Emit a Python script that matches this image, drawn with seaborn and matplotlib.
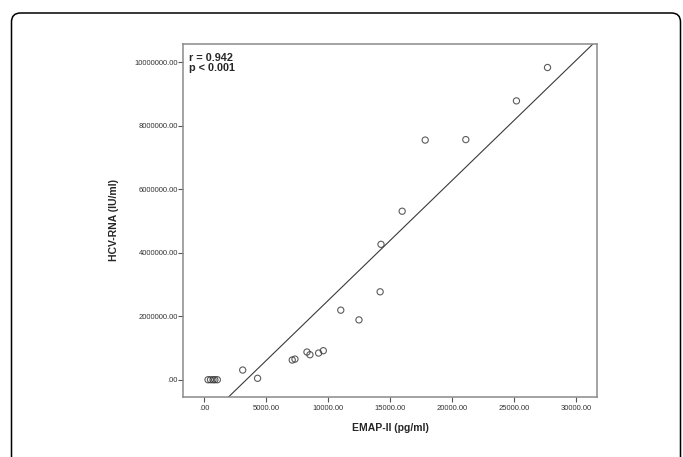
import numpy as np
import pandas as pd
import matplotlib
matplotlib.use("Agg")
import matplotlib.pyplot as plt
from matplotlib.patches import FancyBboxPatch
from matplotlib.ticker import FuncFormatter
import seaborn as sns

# values
emap = [300, 500, 700, 850, 1050, 3100, 4300, 7100, 7320, 8290, 8530,
        9230, 9610, 11020, 12490, 14200, 14270, 15980, 17840, 21120, 25210, 27720]
hcv = [0, 0, 0, 0, 0, 305000, 45000, 620000, 650000, 872000, 787000,
       840000, 914000, 2190000, 1884000, 2768000, 4263000, 5305000,
       7545000, 7560000, 8780000, 9830000]
x_ticks = [0, 5000, 10000, 15000, 20000, 25000, 30000]
y_ticks = [0, 2000000, 4000000, 6000000, 8000000, 10000000]
stats_text = "r = 0.942\np < 0.001"

df = pd.DataFrame({"EMAP-II (pg/ml)": emap, "HCV-RNA (IU/ml)": hcv})

sns.set_style("white")
plt.rcParams["font.family"] = ["Liberation Sans", "DejaVu Sans"]

fig = plt.figure(figsize=(6.83, 4.57), dpi=100)
ax = fig.add_axes([0.2684, 0.1319, 0.6052, 0.7718])

# outer rounded frame of the figure panel
frame = FancyBboxPatch((0.115, -0.3), 6.69, 4.74,
                       boxstyle="round,pad=0,rounding_size=0.09",
                       transform=fig.dpi_scale_trans, fill=False,
                       edgecolor="black", linewidth=1.1, clip_on=False)
fig.patches.append(frame)

ax.set_xlim(-1697, 31690)
ax.set_ylim(-535000, 10570000)

sns.regplot(data=df, x="EMAP-II (pg/ml)", y="HCV-RNA (IU/ml)", ax=ax,
            ci=None, truncate=False,
            scatter_kws=dict(s=20, facecolors="none", edgecolors="#333333",
                             linewidths=0.8),
            line_kws=dict(color="#3a3a3a", linewidth=0.8))

def fmt(v, pos):
    s = f"{v:.2f}"
    return s[1:] if s.startswith("0") else s

ax.set_xticks(x_ticks)
ax.set_yticks(y_ticks)
ax.xaxis.set_major_formatter(FuncFormatter(fmt))
ax.yaxis.set_major_formatter(FuncFormatter(fmt))
ax.tick_params(axis="both", which="major", length=3.5, width=0.8,
               color="#555555", labelsize=5.5, labelcolor="#333333",
               bottom=True, left=True)
ax.tick_params(axis="x", pad=2.5)
ax.tick_params(axis="y", pad=0.5)

for sp in ax.spines.values():
    sp.set_color("#8a8a8a")
    sp.set_linewidth(1.1)

ax.set_xlabel("EMAP-II (pg/ml)", fontsize=7.5, fontweight="bold", labelpad=8)
ax.set_ylabel("HCV-RNA (IU/ml)", fontsize=7.5, fontweight="bold", labelpad=11)

ax.text(0.013, 0.975, stats_text, transform=ax.transAxes, ha="left", va="top",
        fontsize=7.8, fontweight="bold", linespacing=1.05)

fig.savefig("out.png", dpi=100)
